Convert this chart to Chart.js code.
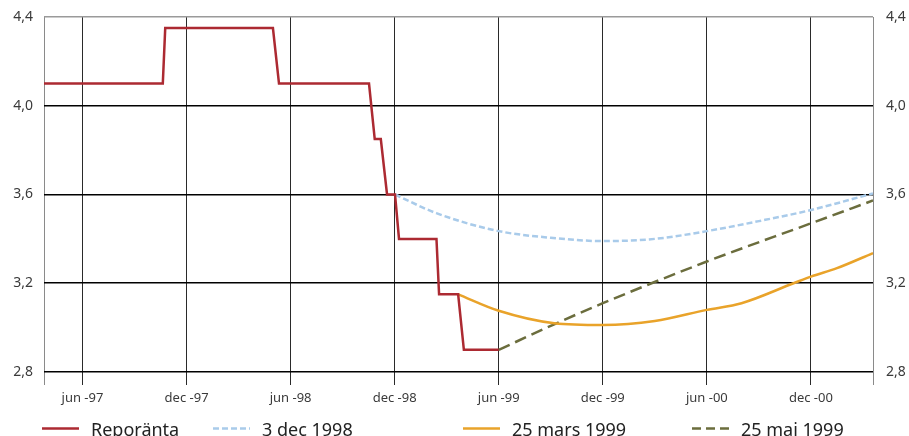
<!DOCTYPE html>
<html lang="sv">
<head>
    <meta charset="UTF-8" />
    <title>Reporänta och implicita terminsräntor</title>
    <script src="https://cdn.jsdelivr.net/npm/chart.js"></script>
    <style>
        html, body { margin: 0; padding: 0; background: #fff; }
        .chart-box { position: relative; width: 909px; height: 436px; }
    </style>
</head>
<body>
<div class="chart-box">
    <canvas id="rateChart"></canvas>
</div>

<script>
    // x = months after the "jun -97" gridline
    const xMin = -2.22;
    const xMax = 45.58;
    const tickMonths = [0, 6, 12, 18, 24, 30, 36, 42];
    const tickLabels = ["jun -97", "dec -97", "jun -98", "dec -98", "jun -99", "dec -99", "jun -00", "dec -00"];
    const yTicks = [2.8, 3.2, 3.6, 4.0, 4.4];

    // Reporänta
    const repoX = [-2.22, 4.63, 4.77, 10.98, 11.33, 16.52, 16.85, 17.2, 17.56, 18.02, 18.25, 20.41, 20.56, 21.66, 21.99, 24.0];
    const repoY = [4.10, 4.10, 4.35, 4.35, 4.10, 4.10, 3.85, 3.85, 3.60, 3.60, 3.40, 3.40, 3.15, 3.15, 2.90, 2.90];

    // 3 dec 1998
    const decX = [18.02, 20.4, 24, 27, 30, 33, 36, 39, 42, 45.58];
    const decY = [3.60, 3.516, 3.435, 3.405, 3.39, 3.40, 3.435, 3.48, 3.53, 3.605];

    // 25 mars 1999
    const marsX = [21.66, 24, 27.2, 30, 33, 36, 38, 41, 42, 43.5, 45.58];
    const marsY = [3.15, 3.076, 3.02, 3.012, 3.03, 3.08, 3.11, 3.20, 3.23, 3.268, 3.336];

    // 25 maj 1999
    const majX = [24, 27.2, 30, 36, 42, 45.58];
    const majY = [2.90, 3.015, 3.11, 3.298, 3.47, 3.573];

    const seriesNames = ["Reporänta", "3 dec 1998", "25 mars 1999", "25 maj 1999"];
    const seriesColors = ["#ac2a32", "#a9cbea", "#e9a32a", "#6b6d3d"];
    const seriesDash = [[], [6, 3], [], [12, 6]];
    const legendX = [42, 213, 463, 692];

    const toPoints = (xs, ys) => xs.map((x, i) => ({ x: x, y: ys[i] }));
    const fmt = v => v.toFixed(1).replace(".", ",");

    const bottomLegend = {
        id: "bottomLegend",
        afterDraw(chart) {
            const ctx = chart.ctx;
            ctx.save();
            chart.data.datasets.forEach((ds, i) => {
                const x = legendX[i];
                ctx.strokeStyle = ds.borderColor;
                ctx.lineWidth = 2.5;
                ctx.setLineDash(i === 3 ? [9, 5] : (ds.borderDash || []));
                ctx.beginPath();
                ctx.moveTo(x, 428.5);
                ctx.lineTo(x + 37, 428.5);
                ctx.stroke();
                ctx.setLineDash([]);
                ctx.fillStyle = "#222";
                ctx.font = "18px 'Noto Sans'";
                ctx.textBaseline = "alphabetic";
                ctx.fillText(ds.label, x + 49, 436);
            });
            ctx.restore();
        }
    };

    const series = [
        toPoints(repoX, repoY),
        toPoints(decX, decY),
        toPoints(marsX, marsY),
        toPoints(majX, majY)
    ];

    const fitY = w => s => {
        s.width = w;
        s.paddingTop = 0;
        s.paddingBottom = 0;
    };

    new Chart(document.getElementById("rateChart"), {
        type: "line",
        data: {
            datasets: series.map((pts, i) => ({
                label: seriesNames[i],
                data: pts,
                borderColor: seriesColors[i],
                borderDash: seriesDash[i],
                borderWidth: 2.5,
                pointRadius: 0,
                tension: i === 0 ? 0 : 0.4,
                cubicInterpolationMode: i === 0 ? "default" : "monotone",
                yAxisID: "y"
            }))
        },
        options: {
            responsive: true,
            maintainAspectRatio: false,
            animation: false,
            layout: { padding: { top: 17, bottom: 0, left: 0, right: 0 } },
            plugins: {
                legend: { display: false },
                tooltip: { enabled: false }
            },
            scales: {
                x: {
                    type: "linear",
                    min: xMin,
                    max: xMax,
                    afterBuildTicks: s => {
                        s.ticks = [xMin].concat(tickMonths, [xMax]).map(v => ({ value: v }));
                    },
                    afterFit: s => { s.height = 64; },
                    border: { display: false },
                    grid: {
                        color: c => (c.tick && (c.tick.value === xMin || c.tick.value === xMax)) ? "#8a8a8a" : "#2a2a2a",
                        lineWidth: 1,
                        tickLength: 13
                    },
                    ticks: {
                        autoSkip: false,
                        maxRotation: 0,
                        padding: 5,
                        color: "#3a3a3a",
                        font: { family: "'Noto Sans'", size: 13 },
                        callback: v => {
                            const k = tickMonths.indexOf(v);
                            return k >= 0 ? tickLabels[k] : "";
                        }
                    }
                },
                y: {
                    position: "left",
                    min: 2.8,
                    max: 4.4,
                    afterBuildTicks: s => { s.ticks = yTicks.map(v => ({ value: v })); },
                    afterFit: fitY(44),
                    border: { display: false },
                    grid: {
                        color: c => (c.tick && c.tick.value > 4.3) ? "#9a9a9a" : "#000",
                        lineWidth: 1.6,
                        drawTicks: false
                    },
                    ticks: {
                        padding: 11,
                        color: "#3a3a3a",
                        font: { family: "'Noto Sans'", size: 14 },
                        callback: v => fmt(v)
                    }
                },
                y2: {
                    position: "right",
                    min: 2.8,
                    max: 4.4,
                    afterBuildTicks: s => { s.ticks = yTicks.map(v => ({ value: v })); },
                    afterFit: fitY(36),
                    border: { display: false },
                    grid: { drawOnChartArea: false, drawTicks: false },
                    ticks: {
                        padding: 13,
                        color: "#3a3a3a",
                        font: { family: "'Noto Sans'", size: 14 },
                        callback: v => fmt(v)
                    }
                }
            }
        },
        plugins: [bottomLegend]
    });
</script>
</body>
</html>
